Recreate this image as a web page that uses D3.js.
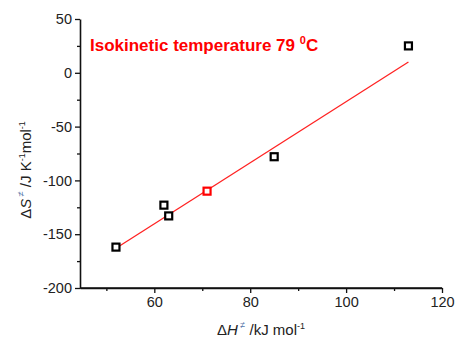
<!DOCTYPE html>
<html><head><meta charset="utf-8">
<script src="https://cdn.jsdelivr.net/npm/d3@7"></script>
<style>body{margin:0;background:#fff}svg{display:block}text{font-family:"Liberation Sans",Arial,sans-serif}</style>
</head><body>
<svg id="c" width="457" height="340"></svg>
<script>
const dHValues = [52, 62, 63, 71, 85, 113];
const dSValues = [-162, -123, -133, -110, -78, 25];
const highlighted = [false, false, false, true, false, false];
const fitX = [52, 113];
const fitY = [-163, 10];
const xTicks = [60, 80, 100, 120];
const xMinor = [50, 70, 90, 110];
const yTicks = [50, 0, -50, -100, -150, -200];
const yMinor = [25, -25, -75, -125, -175];
const annotation = "Isokinetic temperature 79 ";

const svg = d3.select("#c");
const x = d3.scaleLinear().domain([44.5, 120]).range([80, 442]);
const y = d3.scaleLinear().domain([-200, 50]).range([288, 19]);
const ink = "#111";
const fmt = (d) => String(d);

// axes
const gx = svg.append("g").attr("transform", "translate(0,288)");
gx.call(d3.axisBottom(x).tickValues(xTicks).tickFormat(fmt).tickSize(5).tickPadding(4).tickSizeOuter(0));
gx.append("g").call(d3.axisBottom(x).tickValues(xMinor).tickSize(3).tickFormat("").tickSizeOuter(0)).select(".domain").remove();
const gy = svg.append("g").attr("transform", "translate(80,0)");
gy.call(d3.axisLeft(y).tickValues(yTicks).tickFormat(fmt).tickSize(5).tickPadding(3).tickSizeOuter(0));
gy.append("g").call(d3.axisLeft(y).tickValues(yMinor).tickSize(3).tickFormat("").tickSizeOuter(0)).select(".domain").remove();
svg.selectAll(".domain").attr("stroke", ink).attr("stroke-width", 1.6);
svg.selectAll(".tick line").attr("stroke", ink).attr("stroke-width", 1.3);
svg.selectAll(".tick text").attr("fill", "#222").style("font-size", "14.5px").style("font-family", '"Liberation Sans",Arial,sans-serif');
svg.append("line").attr("x1", 80).attr("x2", x(120)).attr("y1", 288).attr("y2", 288).attr("stroke", ink).attr("stroke-width", 1.6);

// fit line
svg.append("line")
  .attr("x1", x(fitX[0])).attr("y1", y(fitY[0]))
  .attr("x2", x(fitX[1])).attr("y2", y(fitY[1]))
  .attr("stroke", "#f22").attr("stroke-width", 1.3);

// points
const s = 7;
svg.append("g").selectAll("rect").data(dHValues).join("rect")
  .attr("x", (d) => x(d) - s / 2)
  .attr("y", (d, i) => y(dSValues[i]) - s / 2)
  .attr("width", s).attr("height", s)
  .attr("fill", "#fff")
  .attr("stroke", (d, i) => highlighted[i] ? "#f00" : "#000")
  .attr("stroke-width", 2.2);

// annotation
const t = svg.append("text").attr("x", 90).attr("y", 51)
  .attr("fill", "#f00").style("font-size", "17px").style("font-weight", "bold");
t.append("tspan").text(annotation);
t.append("tspan").attr("dy", -7).style("font-size", "11px").text("0");
t.append("tspan").attr("dy", 7).text("C");

// x title
const xt = svg.append("text").attr("x", 261).attr("y", 335).attr("text-anchor", "middle")
  .attr("fill", "#222").style("font-size", "15px");
xt.append("tspan").text("Δ");
xt.append("tspan").style("font-style", "italic").text("H");
xt.append("tspan").attr("dy", -7).style("font-size", "9px").attr("fill", "#5577aa").text(" ≠");
xt.append("tspan").attr("dy", 7).text(" /kJ mol");
xt.append("tspan").attr("dy", -6).style("font-size", "9px").text("-1");

// y title
const yt = svg.append("text").attr("transform", "translate(31,170) rotate(-90)").attr("text-anchor", "middle")
  .attr("fill", "#222").style("font-size", "15px");
yt.append("tspan").text("Δ");
yt.append("tspan").style("font-style", "italic").text("S");
yt.append("tspan").attr("dy", -7).style("font-size", "9px").attr("fill", "#5577aa").text(" ≠");
yt.append("tspan").attr("dy", 7).text(" /J K");
yt.append("tspan").attr("dy", -6).style("font-size", "9px").text("-1");
yt.append("tspan").attr("dy", 6).text("mol");
yt.append("tspan").attr("dy", -6).style("font-size", "9px").text("-1");
</script>
</body></html>
